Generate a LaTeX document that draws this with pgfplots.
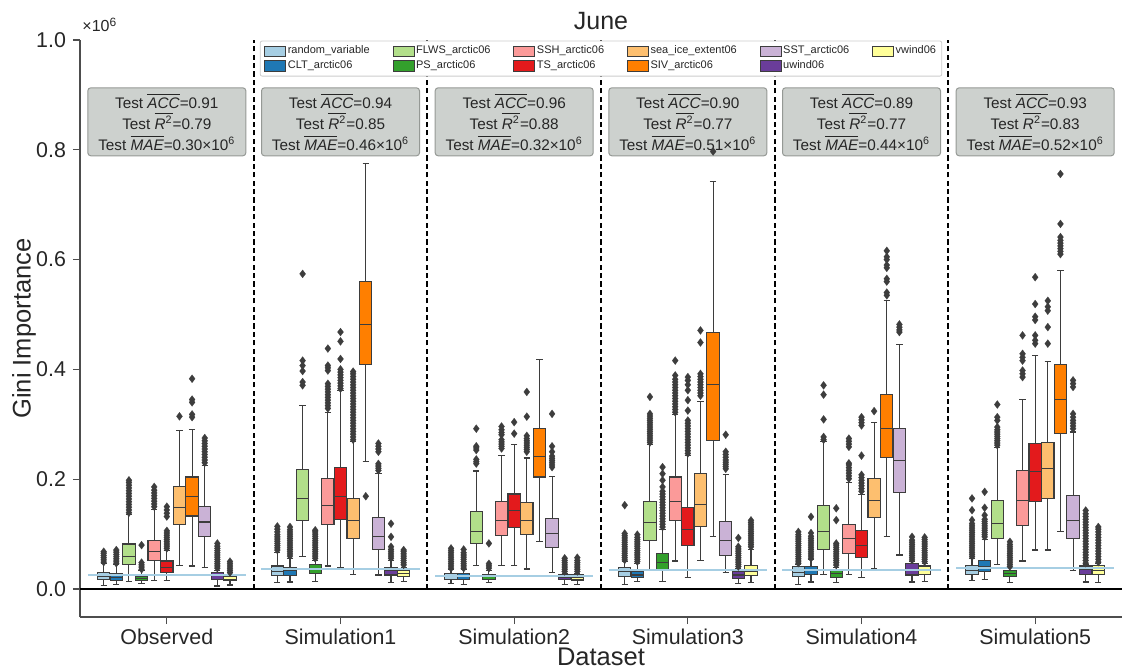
\documentclass[border=0pt]{standalone}
\usepackage{pgfplots}
\pgfplotsset{compat=1.18}
\usepgfplotslibrary{statistics}
\usepackage{fontspec}
\setmainfont{Liberation Sans}

% Paired palette, one colour per predictor
\definecolor{c0}{HTML}{A6CEE3}
\definecolor{c1}{HTML}{1F78B4}
\definecolor{c2}{HTML}{B2DF8A}
\definecolor{c3}{HTML}{33A02C}
\definecolor{c4}{HTML}{FB9A99}
\definecolor{c5}{HTML}{E31A1C}
\definecolor{c6}{HTML}{FDBF6F}
\definecolor{c7}{HTML}{FF7F00}
\definecolor{c8}{HTML}{CAB2D6}
\definecolor{c9}{HTML}{6A3D9A}
\definecolor{c10}{HTML}{FFFF99}
\definecolor{lc}{HTML}{3D3D3D}
\definecolor{txt}{HTML}{262626}
\definecolor{spine}{HTML}{4D4D4D}
\definecolor{boxbg}{HTML}{CDD1CE}
\definecolor{boxln}{HTML}{959995}
\definecolor{legbd}{HTML}{CCCCCC}

\pgfplotsset{
  bxs/.style={forget plot, draw=lc, line width=0.55pt,
    mark=diamond*, mark size=2pt,
    mark options={fill=lc, draw=lc, line width=0.1pt, solid},
    boxplot/draw direction=y,
    boxplot/box extend=0.071, boxplot/whisker extend=0.036},
}
\tikzset{
  scorebox/.style={draw=boxln, fill=boxbg, rounded corners=1.5pt, line width=0.5pt,
    align=center, font=\fontsize{7.65}{10.5}\selectfont, text=txt,
    minimum width=79pt, minimum height=34pt, inner sep=1pt},
}

% position, lower whisker, Q1, median, Q3, upper whisker, colour, outliers
\newcommand{\bx}[8]{\addplot[bxs, fill=#7, boxplot prepared={draw position=#1,
  lower whisker=#2, lower quartile=#3, median=#4, upper quartile=#5,
  upper whisker=#6}] table[row sep=\\, y index=0] {#8};}

% test scores written above each dataset
\newcommand{\score}[4]{\node[scorebox] at (axis cs:#1,0.851)
  {Test $\overline{\mbox{\itshape ACC}}$=#2\\
   Test $\overline{\mbox{\itshape R}^{\mbox{\fontsize{5.4}{6}\selectfont 2}}}$=#3\\
   Test $\overline{\mbox{\itshape MAE}}$=#4×10\textsuperscript{6}};}

\begin{document}
\begin{tikzpicture}
\begin{axis}[
  scale only axis, width=521pt, height=288.5pt,
  xmin=-0.5, xmax=5.5, ymin=-0.051, ymax=1.0,
  xtick={0,1,2,3,4,5},
  xticklabels={Observed,Simulation1,Simulation2,Simulation3,Simulation4,Simulation5},
  ytick={0,0.2,0.4,0.6,0.8,1.0},
  scaled y ticks=false,
  yticklabel style={/pgf/number format/.cd, fixed, fixed zerofill, precision=1},
  /pgf/number format/assume math mode=true,
  tick label style={font=\fontsize{10.7}{12}\selectfont, text=txt},
  xticklabel style={yshift=1pt},
  tick align=outside, major tick length=3.5pt,
  tick style={spine, line width=0.6pt},
  axis x line*=bottom, axis y line*=left,
  axis line style={spine, line width=0.75pt, -},
  title={June},
  every axis title shift=0pt,
  title style={at={(axis description cs:0.5,1.033)}, anchor=center,
    font=\fontsize{12.5}{14}\selectfont, text=txt},
  xlabel={Dataset},
  xlabel style={at={(axis description cs:0.5,-0.0693)}, anchor=center,
    font=\fontsize{12.75}{14}\selectfont, text=txt},
  ylabel={Gini Importance},
  ylabel style={at={(axis description cs:-0.0537,0.5)}, anchor=center,
    font=\fontsize{12.75}{14}\selectfont, text=txt},
  legend columns=6,
  legend image code/.code={\draw[#1, sharp corners] (0pt,-2.6pt) rectangle (10.5pt,2.6pt);},
  legend style={at={(0.5,0.999)}, anchor=north, draw=legbd, fill=white,
    rounded corners=1pt, line width=0.4pt,
    font=\fontsize{5.5}{6.5}\selectfont, text=txt,
    inner xsep=2pt, inner ysep=1.5pt,
    nodes={inner sep=0.9pt, anchor=west},
    /tikz/every even column/.append style={column sep=10.5pt}},
  clip=false,
]

% legend entries, column by column
\addlegendimage{fill=c0, draw=lc, line width=0.4pt}\addlegendentry{random\_variable}
\addlegendimage{fill=c2, draw=lc, line width=0.4pt}\addlegendentry{FLWS\_arctic06}
\addlegendimage{fill=c4, draw=lc, line width=0.4pt}\addlegendentry{SSH\_arctic06}
\addlegendimage{fill=c6, draw=lc, line width=0.4pt}\addlegendentry{sea\_ice\_extent06}
\addlegendimage{fill=c8, draw=lc, line width=0.4pt}\addlegendentry{SST\_arctic06}
\addlegendimage{fill=c10, draw=lc, line width=0.4pt}\addlegendentry{vwind06}
\addlegendimage{fill=c1, draw=lc, line width=0.4pt}\addlegendentry{CLT\_arctic06}
\addlegendimage{fill=c3, draw=lc, line width=0.4pt}\addlegendentry{PS\_arctic06}
\addlegendimage{fill=c5, draw=lc, line width=0.4pt}\addlegendentry{TS\_arctic06}
\addlegendimage{fill=c7, draw=lc, line width=0.4pt}\addlegendentry{SIV\_arctic06}
\addlegendimage{fill=c9, draw=lc, line width=0.4pt}\addlegendentry{uwind06}

% zero line and dataset separators
\addplot[forget plot, black, line width=1.25pt] coordinates {(-0.5,0) (5.5,0)};
\addplot[forget plot, black, line width=1pt, dash pattern=on 2.6pt off 1.6pt] coordinates {(0.5,0) (0.5,1)};
\addplot[forget plot, black, line width=1pt, dash pattern=on 2.6pt off 1.6pt] coordinates {(1.5,0) (1.5,1)};
\addplot[forget plot, black, line width=1pt, dash pattern=on 2.6pt off 1.6pt] coordinates {(2.5,0) (2.5,1)};
\addplot[forget plot, black, line width=1pt, dash pattern=on 2.6pt off 1.6pt] coordinates {(3.5,0) (3.5,1)};
\addplot[forget plot, black, line width=1pt, dash pattern=on 2.6pt off 1.6pt] coordinates {(4.5,0) (4.5,1)};

% ---------- Observed ----------
\bx{-0.3636}{0.007}{0.018}{0.022}{0.030}{0.046}{c0}{0.049\\0.053\\0.057\\0.061\\0.065\\0.068\\}
\bx{-0.2909}{0.009}{0.016}{0.021}{0.0285}{0.044}{c1}{0.047\\0.051\\0.055\\0.059\\0.063\\0.067\\0.071\\}
\bx{-0.2182}{0.0145}{0.045}{0.060}{0.082}{0.135}{c2}{0.139\\0.144\\0.149\\0.154\\0.159\\0.164\\0.169\\0.174\\0.179\\0.184\\0.189\\0.194\\0.198\\}
\bx{-0.1455}{0.0097}{0.015}{0.0194}{0.0236}{0.033}{c3}{0.036\\0.040\\0.044\\0.048\\0.080\\}
\bx{-0.0727}{0.015}{0.0515}{0.069}{0.089}{0.145}{c4}{0.150\\0.155\\0.160\\0.165\\0.170\\0.175\\0.180\\0.186\\}
\bx{0}{0.015}{0.030}{0.0394}{0.051}{0.070}{c5}{0.074\\0.078\\0.082\\0.086\\0.090\\0.094\\0.098\\0.102\\0.106\\0.132\\0.138\\0.144\\0.150\\}
\bx{0.0727}{0.0436}{0.117}{0.148}{0.187}{0.288}{c6}{0.3145\\}
\bx{0.1455}{0.042}{0.133}{0.168}{0.204}{0.29}{c7}{0.313\\0.318\\0.340\\0.345\\0.383\\}
\bx{0.2182}{0.039}{0.096}{0.122}{0.151}{0.225}{c8}{0.230\\0.235\\0.240\\0.245\\0.250\\0.255\\0.260\\0.265\\0.270\\0.275\\}
\bx{0.2909}{0.0055}{0.0176}{0.0255}{0.0297}{0.034}{c9}{0.038\\0.042\\0.046\\0.050\\0.054\\0.058\\0.062\\0.066\\0.070\\0.074\\0.078\\0.083\\}
\bx{0.3636}{0.0073}{0.015}{0.018}{0.022}{0.027}{c10}{0.030\\0.034\\0.038\\0.042\\0.046\\0.050\\}
\addplot[forget plot, c0, line width=1pt] coordinates {(-0.455,0.025) (0.455,0.025)};

% ---------- Simulation1 ----------
\bx{0.6364}{0.012}{0.025}{0.0327}{0.042}{0.066}{c0}{0.071\\0.075\\0.079\\0.083\\0.087\\0.091\\0.095\\0.099\\0.104\\0.109\\0.114\\}
\bx{0.7091}{0.0127}{0.025}{0.033}{0.040}{0.056}{c1}{0.060\\0.064\\0.068\\0.072\\0.076\\0.080\\0.084\\0.088\\0.092\\0.096\\0.100\\0.104\\0.108\\0.113\\}
\bx{0.7818}{0.06}{0.124}{0.165}{0.218}{0.335}{c2}{0.371\\0.377\\0.397\\0.407\\0.416\\0.574\\}
\bx{0.8545}{0.0145}{0.0285}{0.036}{0.045}{0.052}{c3}{0.056\\0.060\\0.064\\0.068\\0.072\\0.076\\0.080\\0.084\\0.088\\0.092\\0.096\\0.100\\0.104\\0.107\\}
\bx{0.9273}{0.042}{0.1176}{0.1515}{0.2005}{0.321}{c4}{0.329\\0.334\\0.339\\0.344\\0.349\\0.354\\0.359\\0.364\\0.369\\0.374\\0.398\\0.403\\0.407\\0.438\\}
\bx{1}{0.039}{0.127}{0.168}{0.222}{0.361}{c5}{0.365\\0.370\\0.375\\0.380\\0.385\\0.390\\0.395\\0.400\\0.419\\0.451\\0.468\\}
\bx{1.0727}{0.0267}{0.092}{0.124}{0.165}{0.268}{c6}{0.272\\0.277\\0.282\\0.287\\0.292\\0.297\\0.302\\0.307\\0.312\\0.317\\0.322\\0.327\\0.332\\0.337\\0.342\\0.347\\0.352\\0.357\\0.362\\0.367\\0.372\\0.377\\0.382\\0.387\\0.392\\0.396\\}
\bx{1.1455}{0.232}{0.4085}{0.4818}{0.5605}{0.775}{c7}{0.169\\}
\bx{1.2182}{0.0255}{0.072}{0.096}{0.130}{0.21}{c8}{0.216\\0.220\\0.224\\0.228\\0.250\\0.255\\0.260\\0.265\\}
\bx{1.2909}{0.0115}{0.0255}{0.033}{0.0395}{0.052}{c9}{0.056\\0.060\\0.064\\0.068\\0.072\\0.077\\0.095\\0.119\\}
\bx{1.3636}{0.0145}{0.0236}{0.0285}{0.033}{0.040}{c10}{0.044\\0.048\\0.052\\0.056\\0.060\\0.064\\0.068\\0.071\\}
\addplot[forget plot, c0, line width=1pt] coordinates {(0.545,0.036) (1.455,0.036)};

% ---------- Simulation2 ----------
\bx{1.6364}{0.0103}{0.0176}{0.0224}{0.0285}{0.035}{c0}{0.038\\0.042\\0.046\\0.050\\0.054\\0.058\\0.062\\0.066\\0.070\\0.074\\}
\bx{1.7091}{0.0085}{0.0176}{0.0236}{0.0285}{0.035}{c1}{0.038\\0.042\\0.046\\0.050\\0.054\\0.058\\0.062\\0.066\\0.072\\}
\bx{1.7818}{0.0436}{0.083}{0.1055}{0.1406}{0.215}{c2}{0.2285\\0.232\\0.236\\0.253\\0.257\\0.260\\0.292\\}
\bx{1.8545}{0.0115}{0.0176}{0.0224}{0.0267}{0.034}{c3}{0.038\\0.042\\0.046\\0.083\\}
\bx{1.9273}{0.0436}{0.097}{0.1255}{0.159}{0.2436}{c4}{0.256\\0.260\\0.264\\0.268\\0.272\\0.281\\0.285\\0.290\\0.296\\}
\bx{2}{0.0436}{0.112}{0.1436}{0.173}{0.2636}{c5}{0.283\\0.304\\}
\bx{2.0727}{0.0364}{0.100}{0.125}{0.1576}{0.2387}{c6}{0.250\\0.254\\0.258\\0.262\\0.266\\0.270\\0.274\\0.279\\0.314\\0.359\\}
\addplot[bxs, fill=c7, boxplot prepared={draw position=2.1455,
  lower whisker=0.086, lower quartile=0.204, median=0.2418,
  upper quartile=0.292, upper whisker=0.4176}] coordinates {};
\bx{2.2182}{0.0297}{0.0758}{0.101}{0.1285}{0.2055}{c8}{0.222\\0.226\\0.230\\0.234\\0.238\\0.242\\0.250\\0.260\\0.319\\}
\bx{2.2909}{0.0085}{0.0176}{0.0206}{0.0255}{0.029}{c9}{0.032\\0.036\\0.040\\0.044\\0.048\\0.052\\0.056\\}
\bx{2.3636}{0.0085}{0.0164}{0.0206}{0.0255}{0.029}{c10}{0.032\\0.036\\0.040\\0.044\\0.048\\0.052\\0.057\\}
\addplot[forget plot, c0, line width=1pt] coordinates {(1.545,0.0236) (2.455,0.0236)};

% ---------- Simulation3 ----------
\bx{2.6364}{0.0085}{0.0236}{0.0315}{0.0394}{0.050}{c0}{0.053\\0.057\\0.061\\0.065\\0.069\\0.073\\0.077\\0.081\\0.085\\0.089\\0.093\\0.097\\0.101\\0.1527\\}
\bx{2.7091}{0.013}{0.021}{0.0255}{0.0315}{0.046}{c1}{0.050\\0.054\\0.058\\0.062\\0.066\\0.070\\0.074\\0.078\\0.082\\0.086\\0.090\\0.094\\0.099\\}
\bx{2.7818}{0.033}{0.088}{0.1206}{0.1594}{0.263}{c2}{0.267\\0.271\\0.275\\0.279\\0.283\\0.287\\0.291\\0.295\\0.299\\0.303\\0.307\\0.311\\0.315\\0.319\\0.350\\}
\bx{2.8545}{0.0145}{0.0358}{0.048}{0.065}{0.1085}{c3}{0.113\\0.118\\0.123\\0.128\\0.133\\0.138\\0.143\\0.148\\0.153\\0.158\\0.163\\0.168\\0.173\\0.178\\0.186\\0.198\\0.210\\0.222\\}
\bx{2.9273}{0.051}{0.124}{0.159}{0.204}{0.3176}{c4}{0.322\\0.327\\0.332\\0.337\\0.342\\0.347\\0.352\\0.357\\0.362\\0.367\\0.372\\0.377\\0.382\\0.389\\0.416\\}
\bx{3}{0.0212}{0.08}{0.109}{0.1485}{0.2436}{c5}{0.247\\0.252\\0.257\\0.262\\0.267\\0.272\\0.277\\0.282\\0.287\\0.292\\0.297\\0.302\\0.307\\0.325\\0.344\\0.362\\0.372\\0.380\\0.386\\}
\bx{3.0727}{0.0527}{0.1145}{0.154}{0.21}{0.342}{c6}{0.352\\0.357\\0.362\\0.367\\0.372\\0.377\\0.382\\0.387\\0.392\\0.449\\0.471\\}
\bx{3.1455}{0.0964}{0.271}{0.3727}{0.468}{0.742}{c7}{0.797\\}
\bx{3.2182}{0.0297}{0.0618}{0.088}{0.1236}{0.209}{c8}{0.219\\0.223\\0.227\\0.231\\0.235\\0.240\\0.245\\0.250\\0.281\\}
\bx{3.2909}{0.0103}{0.0194}{0.0255}{0.0315}{0.038}{c9}{0.041\\0.045\\0.049\\0.053\\0.057\\0.061\\0.065\\0.069\\0.073\\0.077\\0.093\\}
\bx{3.3636}{0.012}{0.024}{0.0315}{0.0424}{0.072}{c10}{0.077\\0.081\\0.085\\0.089\\0.093\\0.097\\0.101\\0.105\\0.109\\0.113\\0.117\\0.121\\0.125\\}
\addplot[forget plot, c0, line width=1pt] coordinates {(2.545,0.034) (3.455,0.034)};

% ---------- Simulation4 ----------
\bx{3.6364}{0.009}{0.0236}{0.0297}{0.0406}{0.044}{c0}{0.047\\0.051\\0.055\\0.059\\0.063\\0.067\\0.071\\0.075\\0.079\\0.083\\0.087\\0.091\\0.095\\0.099\\0.104\\}
\bx{3.7091}{0.0127}{0.0267}{0.0345}{0.0406}{0.053}{c1}{0.056\\0.060\\0.064\\0.068\\0.072\\0.076\\0.080\\0.084\\0.088\\0.092\\0.096\\0.102\\0.1315\\}
\bx{3.7818}{0.027}{0.072}{0.104}{0.1515}{0.268}{c2}{0.272\\0.277\\0.309\\0.354\\0.371\\}
\bx{3.8545}{0.0115}{0.0212}{0.0285}{0.0358}{0.040}{c3}{0.0436\\0.048\\0.052\\0.056\\0.060\\0.064\\0.068\\0.072\\0.076\\0.080\\0.083\\0.1255\\0.147\\}
\bx{3.9273}{0.027}{0.065}{0.0915}{0.118}{0.194}{c4}{0.201\\0.206\\0.211\\0.216\\0.221\\0.226\\0.229\\0.259\\0.264\\0.269\\0.274\\}
\bx{4}{0.0206}{0.0576}{0.08}{0.107}{0.172}{c5}{0.178\\0.183\\0.188\\0.193\\0.198\\0.203\\0.208\\0.243\\0.298\\0.303\\0.308\\0.313\\}
\bx{4.0727}{0.0364}{0.130}{0.1618}{0.2018}{0.303}{c6}{0.324\\}
\bx{4.1455}{0.095}{0.2394}{0.292}{0.3545}{0.525}{c7}{0.535\\0.540\\0.560\\0.565\\0.585\\0.590\\0.600\\0.605\\0.616\\}
\bx{4.2182}{0.062}{0.175}{0.2345}{0.292}{0.445}{c8}{0.468\\0.472\\0.477\\0.482\\}
\bx{4.2909}{0.0127}{0.0255}{0.0345}{0.0467}{0.050}{c9}{0.053\\0.057\\0.061\\0.065\\0.069\\0.073\\0.077\\0.081\\0.085\\0.089\\0.095\\}
\bx{4.3636}{0.0139}{0.027}{0.0345}{0.042}{0.047}{c10}{0.050\\0.054\\0.058\\0.062\\0.066\\0.070\\0.074\\0.078\\0.082\\0.086\\0.090\\0.094\\}
\addplot[forget plot, c0, line width=1pt] coordinates {(3.545,0.0345) (4.455,0.0345)};

% ---------- Simulation5 ----------
\bx{4.6364}{0.015}{0.027}{0.033}{0.0436}{0.056}{c0}{0.059\\0.063\\0.067\\0.071\\0.075\\0.079\\0.083\\0.087\\0.091\\0.095\\0.099\\0.103\\0.107\\0.111\\0.115\\0.119\\0.1255\\0.1436\\0.165\\}
\bx{4.7091}{0.0176}{0.0315}{0.0406}{0.0527}{0.09}{c1}{0.095\\0.099\\0.103\\0.107\\0.111\\0.115\\0.119\\0.123\\0.127\\0.1345\\0.148\\0.177\\}
\bx{4.7818}{0.045}{0.092}{0.1194}{0.1618}{0.258}{c2}{0.262\\0.266\\0.270\\0.274\\0.278\\0.282\\0.286\\0.290\\0.295\\0.307\\0.313\\0.336\\}
\bx{4.8545}{0.0115}{0.0224}{0.0285}{0.0345}{0.038}{c3}{0.041\\0.045\\0.049\\0.053\\0.057\\0.061\\0.065\\0.069\\0.073\\0.077\\0.081\\0.086\\}
\bx{4.9273}{0.051}{0.1164}{0.1618}{0.2164}{0.345}{c4}{0.386\\0.392\\0.398\\0.416\\0.422\\0.4285\\0.462\\}
\bx{5}{0.071}{0.159}{0.2133}{0.265}{0.4255}{c5}{0.447\\0.453\\0.462\\0.490\\0.496\\0.519\\0.568\\}
\bx{5.0727}{0.071}{0.165}{0.2194}{0.2667}{0.415}{c6}{0.447\\0.477\\0.507\\0.514\\0.525\\}
\bx{5.1455}{0.1055}{0.283}{0.345}{0.409}{0.58}{c7}{0.610\\0.615\\0.620\\0.625\\0.630\\0.635\\0.641\\0.665\\0.756\\}
\bx{5.2182}{0.0345}{0.092}{0.1255}{0.171}{0.286}{c8}{0.292\\0.297\\0.302\\0.307\\0.313\\0.319\\0.368\\0.374\\0.380\\}
\bx{5.2909}{0.0127}{0.027}{0.036}{0.042}{0.044}{c9}{0.047\\0.052\\0.057\\0.062\\0.067\\0.072\\0.077\\0.082\\0.087\\0.092\\0.097\\0.102\\0.107\\0.112\\0.117\\0.122\\0.127\\0.132\\0.137\\0.143\\}
\bx{5.3636}{0.0115}{0.027}{0.0345}{0.0436}{0.046}{c10}{0.049\\0.054\\0.059\\0.064\\0.069\\0.074\\0.079\\0.084\\0.089\\0.094\\0.099\\0.104\\0.109\\0.113\\}
\addplot[forget plot, c0, line width=1pt] coordinates {(4.545,0.0388) (5.455,0.0388)};

% test scores
\score{0}{0.91}{0.79}{0.30}
\score{1}{0.94}{0.85}{0.46}
\score{2}{0.96}{0.88}{0.32}
\score{3}{0.90}{0.77}{0.51}
\score{4}{0.89}{0.77}{0.44}
\score{5}{0.93}{0.83}{0.52}

% common factor of the y axis
\node[anchor=base west, font=\fontsize{8}{9}\selectfont, text=txt, inner sep=0pt]
  at (axis description cs:0.002,1.0144) {×10\textsuperscript{6}};
\end{axis}
\pgfresetboundingbox
\path[use as bounding box] (-40pt,-27pt) rectangle (521pt,308.5pt);
\end{tikzpicture}
\end{document}
